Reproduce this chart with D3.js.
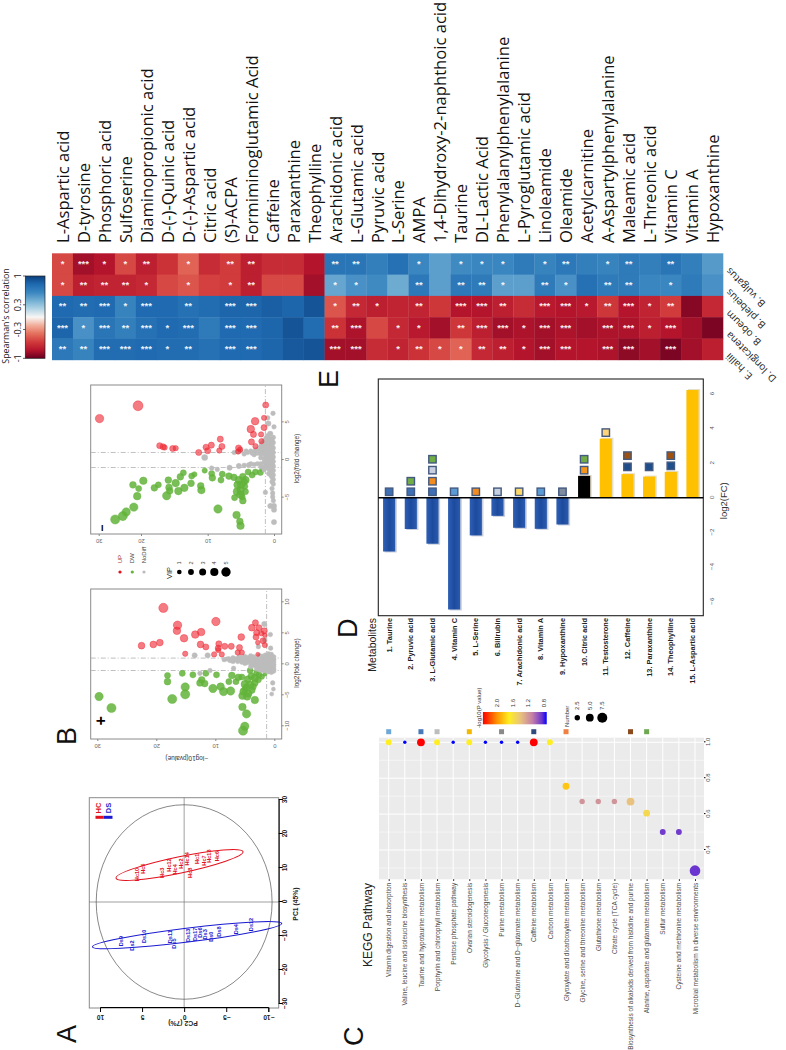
<!DOCTYPE html>
<html><head><meta charset="utf-8">
<script src="https://cdn.jsdelivr.net/npm/d3@7/dist/d3.min.js"></script>
<style>html,body{margin:0;padding:0;background:#fff;overflow:hidden}svg{display:block}text{font-family:"Liberation Sans",Arial,sans-serif}</style>
</head><body><svg id="c" width="786" height="1050"></svg>
<script>
// ---------- Panel A: PCA ----------
const hcSamples=["Hc10","Hc5","Hc3","Hc12","Hc4","Hc2","Hc14","Hc8","Hc1","Hc7","Hc13","Hc6"];
const hcPC1=[8.1,9.8,8.6,10.9,9.6,11.3,12.7,8.6,12.7,12.2,13.5,13.5];
const hcPC2=[5.6,4.9,2.6,1.8,1.1,0.4,-0.3,-0.7,-1.5,-2.3,-2.9,-3.9];
const dsSamples=["Ds9","Ds2","Ds10","Ds11","Ds5","Ds13","Ds17","Ds6","Ds3","Ds0","Ds8","Ds4","Ds12"];
const dsPC1=[-11.5,-12.8,-10.1,-10.2,-12.2,-9.8,-9.5,-9.0,-9.5,-10.2,-8.7,-8.0,-6.6];
const dsPC2=[7.5,6.2,4.8,1.7,1.2,-0.5,-1.3,-1.9,-2.5,-3.2,-4.1,-6.2,-8.0];
const pcaTicksX=[-30,-20,-10,0,10,20,30];
const pcaTicksY=[-10,-5,0,5,10];
const hcEllipseTips=[7,8.1,14.8,-7];
const dsEllipseTips=[-13.2,10.9,-6.3,-11.6];
const hotellingPC=[28.6,10.45];

// ---------- Panel B: volcano [ -log10p , log2FC , VIP ] ----------
const leftUp=[[18.8,9.1,3.9],[16.4,6.3,3.3],[16.5,5.4,2.7],[9.9,6.9,3.3],[15.3,4.2,2.7],[13.4,4.8,2.7],[12.4,5.2,2.7],[12.5,3.2,2.1],[11.6,2.8,1.6],[22.5,3.0,2.1],[20.5,3.2,2.1],[19.4,3.5,2.1],[15.1,1.7,1],[5.6,4.4,2.1],[3.8,5.9,2.1],[3.2,6.7,1.6],[2.6,5.9,1.6],[1.7,5.4,1.6],[3,5.1,1.6],[3.1,4.4,1.6],[1.9,3.8,1.6],[1.6,3.1,1],[2.8,3.5,.5],[9.4,3.3,1.6],[9.5,2.6,1.6],[8.4,2.9,1.6],[7.3,2.9,1.6],[5.9,2.7,1.6],[10.2,1.6,1],[8.9,1.6,1],[9.5,2.3,1],[6.2,1.9,1],[5.5,1.9,1],[2.8,1.6,.1],[2.2,5,1],[1.6,4.7,.5]];
const leftDown=[[29.7,-5.2,3.3],[27.6,-7.05,3.9],[18.1,-1.8,1.6],[18.1,-2.8,2.1],[15.6,-1.46,1.6],[13.8,-1.7,1.6],[12.3,-2.5,2.1],[12.6,-3,2.1],[11.8,-3.1,2.1],[11.6,-1.46,1.6],[9.8,-1.7,1.6],[15.1,-3.66,3.3],[15.1,-4.85,3.9],[17.3,-5.6,3.9],[10.4,-3.9,3.3],[9.1,-3.6,2.7],[8.6,-4.4,3.3],[7.4,-4.3,3.3],[7.7,-2.8,1.6],[7.2,-1.8,2.1],[6.5,-2.8,1.6],[6.1,-2.1,2.1],[5.5,-2.05,1.6],[4.1,-1,1.6],[3.3,-2.2,2.7],[5,-3.2,2.7],[4.1,-3.3,2.7],[5.2,-4.4,2.7],[4.4,-4.7,2.7],[5.4,-5.06,2.7],[4.6,-5.2,2.7],[3.3,-5.76,2.7],[5.4,-6.9,2.7],[4.7,-8,3.3],[5,-10,3.3],[5.3,-10.7,3.9],[3.6,-3.6,2.1],[2.7,-2.5,1.6],[2.1,-2,1],[3.8,-4.15,2.1],[1.6,-1.6,.1],[5,-4,1.6],[4.5,-2.4,2.1],[3.9,-1.9,2.1],[3,-1.4,1.6],[2.6,-1.7,1.6],[4.7,-3.7,2.1],[3.3,-3,2.1]];
const leftNone=[[13.5,1.45,1],[11.3,1.45,1],[12.6,-1.46,.5],[10.9,-1,.5],[6.9,-.65,.5],[.27,-3,.5],[.15,-4,.1],[.44,-4.8,.1],[1.7,6.5,1],[.67,4.8,.5],[.62,2.6,.5],[2.7,2.85,.5],[1.6,3.9,.5],[8.5,.75,.5],[8,.85,.5],[7.5,.6,.5],[7,1.05,.5],[7,.45,.5],[6.5,.9,.5],[6,.7,.5],[6,1.15,.5],[5.5,.35,.5],[5.5,1,.5],[5,.8,.5],[5,.15,.5],[5,1.25,.5],[4.5,.5,.5],[4.5,1.1,.5],[4,.9,.5],[4,.1,.5],[4,-.4,.5],[4,1.35,.5],[3.5,.6,.5],[3.5,-.2,.5],[3.5,1.2,.5],[3,.9,.5],[3,.3,.5],[3,-.3,.5],[3,-.7,.5],[2.5,1.4,.5],[2.5,.7,.5],[2.5,.1,.5],[2.5,-.5,.5],[2.5,-.9,.5],[2,1.3,.5],[2,.9,.5],[2,.4,.5],[2,-.1,.5],[2,-.6,.5],[2,-1,.5],[1.5,1.5,.5],[1.5,1,.5],[1.5,.5,.5],[1.5,0,.5],[1.5,-.5,.5],[1.5,-1,.5],[1,1.7,.5],[1,1.2,.5],[1,.7,.5],[1,.2,.5],[1,-.3,.5],[1,-.8,.5],[1,-1.2,.5],[.5,1.6,.5],[.5,1.1,.5],[.5,.6,.5],[.5,.1,.5],[.5,-.4,.5],[.5,-.9,.5],[.5,-1.3,.5],[.1,1.2,.5],[.1,.8,.5],[.1,.4,.5],[.1,0,.5],[.1,-.4,.5],[.1,-.8,.5],[.1,-1.1,.5],[7.7,.9,.5],[6.8,.7,.5],[6.2,.45,.5],[5.8,.85,.5],[5.2,.55,.5],[4.7,.25,.5],[4.7,.8,.5],[4.2,.65,.5],[3.8,.35,.5],[3.8,.95,.5],[3.2,.05,.5],[3.2,.6,.5],[2.8,.4,.5],[2.8,-.2,.5],[2.2,.65,.5],[2.2,.15,.5],[2.2,-.35,.5],[2.2,-.8,.5],[1.2,.95,.5],[1.2,.45,.5],[1.2,-.05,.5],[1.2,-.55,.5],[.8,1.35,.5],[.8,.85,.5],[.8,.35,.5],[.8,-.15,.5],[.8,-.65,.5],[.8,-1.05,.5]];
const rightUp=[[29.8,5.5,3.3],[20.7,7.2,4.4],[1.25,7.3,1.6],[1.5,5.6,1],[2.85,5.15,2.7],[1.5,4.3,1.6],[3.5,4.1,2.7],[3.1,3.4,1.6],[1.95,3.4,1],[3.4,2.4,1.6],[1.9,2.5,1],[2.8,1.84,1],[17.2,1.9,1.6],[16.7,1.75,1.6],[16.45,1.66,1],[15.25,1.53,1.6],[14.8,1.57,1],[11.35,1,1.6],[10.25,1.7,1.6],[9.45,1.97,1.6],[10,1.22,1.6],[8.1,2.77,1.6],[7.85,1.8,1.6],[8.25,1.26,1],[5.35,1.6,1.6],[5.1,1.4,1],[5.4,1.13,1]];
const rightDown=[[19.65,-2.76,2.7],[21.9,-3.3,2.1],[20.55,-3.8,1.6],[20.9,-4.8,2.7],[21.7,-6.26,3.3],[23.5,-6.9,3.3],[24.3,-7.45,3.9],[26.1,-7.9,3.9],[18,-3.7,2.1],[17.4,-3.3,1.6],[15.9,-2.67,2.1],[15.8,-3.65,2.1],[15.7,-4.1,2.1],[16.15,-4.75,3.3],[14.8,-3.07,2.7],[14.1,-2.23,2.1],[13.65,-1.7,1.6],[14.4,-4.13,2.7],[13.5,-3.7,2.7],[12.4,-2.14,1.6],[12.5,-3.1,2.1],[12,-1.9,1],[11.05,-3.43,2.1],[10.95,-4,2.7],[10.45,-1.4,1],[9.4,-1.8,1.6],[9.3,-2.36,2.1],[7.8,-1.88,1.6],[8,-2.67,1.6],[8.45,-6.5,3.3],[5.65,-7.3,2.7],[5.15,-8.16,2.1],[5.05,-8.73,2.7],[5.95,-5,1.6],[4.7,-5.4,2.1],[6.8,-2.14,2.1],[6.05,-2.3,2.1],[5.3,-2.67,2.7],[4.95,-3.3,2.7],[5.05,-4,2.7],[5.05,-4.6,2.7],[4.8,-4.9,1.6],[4.3,-2.67,2.7],[3.3,-2,1.6],[2.05,-1.66,1.6],[1.8,-1.25,.5],[4.4,-3.5,1.6],[4.3,-4.2,1.6],[5.5,-3.3,2.7],[4.7,-2.2,2.1],[3.9,-1.6,1.6],[2.8,-1.6,1.6],[5.6,-4.2,2.7],[4.5,-2.9,2.1]];
const rightNone=[[10.45,.33,1.6],[9.4,-1.08,.5],[8.55,-1.25,.5],[6.7,-1.03,1],[5.3,-.8,1],[3.8,-.68,1],[.15,6.2,.5],[.95,5.6,.5],[.85,4.85,1],[0,4.4,.5],[.65,3.5,.5],[1.3,-4.3,.5],[.55,-6.1,1],[0,-6.1,1],[0,-6.6,1],[0,-8.25,1],[.2,-4.9,.5],[.1,-5.4,.5],[6,1,.5],[5,1.2,.5],[4.5,.8,.5],[4,1,.5],[3.5,1.2,.5],[3,1.1,.5],[3,.7,.5],[2.5,1.4,.5],[2.5,.9,.5],[2,1.8,.5],[2,1.3,.5],[2,.8,.5],[2,.3,.5],[1.5,2.6,.5],[1.5,2,.5],[1.5,1.4,.5],[1.5,.8,.5],[1.5,.2,.5],[1.5,-.3,.5],[1,3.2,.5],[1,2.6,.5],[1,2,.5],[1,1.4,.5],[1,.8,.5],[1,.2,.5],[1,-.4,.5],[1,-1,.5],[.5,3.5,.5],[.5,2.8,.5],[.5,2.2,.5],[.5,1.6,.5],[.5,1,.5],[.5,.4,.5],[.5,-.2,.5],[.5,-.8,.5],[.5,-1.4,.5],[.5,-2,.5],[.1,3,.5],[.1,2.3,.5],[.1,1.6,.5],[.1,1,.5],[.1,.4,.5],[.1,-.2,.5],[.1,-.8,.5],[.1,-1.4,.5],[.1,-2,.5],[.1,-2.6,.5],[.1,-3.2,.5],[.3,-3.8,.5],[.2,-4.4,.5],[3,-.6,.5],[3.5,-.5,.5],[2.5,-.5,.5],[2,-.5,.5],[2,-.9,.5],[1.5,-.9,.5],[1.5,-1.3,.5],[4.5,-.7,.5],[5.5,1.1,.5],[4.2,1.2,.5],[3.3,.9,.5],[2.8,1.3,.5],[2.2,1.1,.5],[1.8,2.2,.5],[1.8,1.6,.5],[1.8,1,.5],[1.2,2.9,.5],[1.2,2.3,.5],[1.2,1.7,.5],[1.2,1.1,.5],[1.2,.5,.5],[1.2,-.1,.5],[1.2,-.7,.5],[.8,3,.5],[.8,2.4,.5],[.8,1.8,.5],[.8,1.2,.5],[.8,.6,.5],[.8,0,.5],[.8,-.6,.5],[.8,-1.2,.5],[.8,-1.8,.5],[.3,2.6,.5],[.3,1.9,.5],[.3,1.3,.5],[.3,.7,.5],[.3,.1,.5],[.3,-.5,.5],[.3,-1.1,.5],[.3,-1.7,.5],[.3,-2.3,.5],[.3,-2.9,.5]];
const leftFcTicks=[-10,-5,0,5,10];
const rightFcTicks=[-5,0,5];
const pvalTicks=[0,10,20,30];
const vipLevels=[1,2,3,4,5];
const volcanoClasses=["UP","DW","NoDiff"];

// ---------- Panel C: KEGG ----------
const pathways=["Vitamin digestion and absorption","Valine, leucine and isoleucine biosynthesis","Taurine and hypotaurine metabolism","Porphyrin and chlorophyll metabolism","Pentose phosphate pathway","Ovarian steroidogenesis","Glycolysis / Gluconeogenesis","Purine metabolism","D−Glutamine and D−glutamate metabolism","Caffeine metabolism","Carbon metabolism","Glyoxylate and dicarboxylate metabolism","Glycine, serine and threonine metabolism","Glutathione metabolism","Citrate cycle (TCA cycle)","Biosynthesis of alkaloids derived from histidine and purine","Alanine, aspartate and glutamate metabolism","Sulfur metabolism","Cysteine and methionine metabolism","Microbial metabolism in diverse environments"];
const pathwayRatio=[1,1,1,1,1,1,1,1,1,1,1,.755,.67,.67,.67,.67,.605,.5,.5,.285];
const pathwayP=[1.7,.73,2.37,1.7,.73,1.7,.73,.73,.73,2.37,1.7,1.83,1.2,1.2,1.2,1.4,1.55,.87,.87,.85];
const pathwayNumber=[3,1,5,3,1,3,1,1,1,5,3,4,2.5,2.5,2.5,5,4,3,3,8];
const pathwayTagIndex=[0,2,3,5,7,9,11,15,16];
const pathwayTagColor=["#6fa8d6","#4a79b8","#bdbdbd","#f5b800","#8a8a8a","#2f4a7d","#f08040","#8b4a1e","#70a850"];
const ratioTicks=[.4,.6,.8,1];
const pLegendTicks=[2,1.6,1.2,.8];
const pStops=[2.37,2,1.7,1.4,1.1,.85,.73];
const pStopColors=["#ff0000","#ff9500","#ffee22","#e8c27e","#c47fa8","#6a35d0","#0000ff"];
const numberLegend=[2.5,5,7.5];

// ---------- Panel D: bars ----------
const metabolites=["1. Taurine","2. Pyruvic acid","3. L-Glutamic acid","4. Vitamin C","5. L-Serine","6. Bilirubin","7. Arachidonic acid","8. Vitamin A","9. Hypoxanthine","10. Citric acid","11. Testosterone","12. Caffeine","13. Paraxanthine","14. Theophylline","15. L-Aspartic acid"];
const log2fc=[-3.1,-1.8,-2.65,-6.45,-2.17,-1.04,-1.73,-1.79,-1.54,1.27,3.42,1.37,1.23,1.5,6.23];
const fcTicks=[-6,-4,-2,0,2,4,6];
const tagFC=[[.35],[.35,.96],[.35,.96,1.6,2.23],[.35],[.35],[.35],[.35],[.35],[.35],[1.6,2.23],[3.77],[1.79,2.44],[1.79],[1.85,2.44],[]];
const tagColors=[["#3f6fb5"],["#3f6fb5","#70ad47"],["#3f6fb5","#f28c1e","#c9cfe0","#70ad47"],["#5b9bd5"],["#f28c1e"],["#c5cfe0"],["#ffd966"],["#5b9bd5"],["#7f8c9f"],["#f4951e","#70ad47"],["#ffd37a"],["#1f4e8c","#9e5212"],["#1f4e8c"],["#1f4e8c","#9e5212"],[]];

// ---------- Panel E: heatmap ----------
const compounds=["L-Aspartic acid","D-tyrosine","Phosphoric acid","Sulfoserine","Diaminopropionic acid","D-(-)-Quinic acid","D-(-)-Aspartic acid","Citric acid","(S)-ACPA","Formiminoglutamic Acid","Caffeine","Paraxanthine","Theophylline","Arachidonic acid","L-Glutamic acid","Pyruvic acid","L-Serine","AMPA","1,4-Dihydroxy-2-naphthoic acid","Taurine","DL-Lactic Acid","Phenylalanylphenylalanine","L-Pyroglutamic acid","Linoleamide","Oleamide","Acetylcarnitine","A-Aspartylphenylalanine","Maleamic acid","L-Threonic acid","Vitamin C","Vitamin A","Hypoxanthine"];
const bacteria=["B. vulgatus","B. plebeius","B. obeum","D. longicatena","E. hallii"];
const rVulgatus=[-.55,-.85,-.8,-.55,-.75,-.65,-.45,-.68,-.6,-.75,-.68,-.68,-.8,.72,.72,.65,.75,.6,.48,.58,.6,.6,.68,.62,.7,.65,.62,.68,.65,.72,.65,.5];
const rPlebeius=[-.55,-.75,-.72,-.72,-.7,-.55,-.5,-.58,-.6,-.75,-.55,-.55,-.85,.45,.55,.58,.42,.7,.48,.7,.68,.48,.48,.68,.55,.75,.68,.68,.6,.6,.68,.55];
const rObeum=[.8,.78,.8,.62,.8,.8,.75,.78,.82,.82,.85,.82,.9,-.5,-.7,-.75,-.72,-.72,-.62,-.8,-.8,-.75,-.68,-.78,-.8,-.78,-.62,-.8,-.72,-.6,-.92,-.7];
const rLongicatena=[.82,.55,.72,.65,.75,.8,.78,.68,.8,.8,.82,.9,.78,-.65,-.82,-.55,-.7,-.78,-.85,-.62,-.75,-.85,-.82,-.85,-.82,-.85,-.82,-.82,-.75,-.8,-.85,-.95];
const rHallii=[.7,.62,.78,.78,.8,.78,.78,.75,.8,.8,.82,.88,.9,-.85,-.85,-.68,-.72,-.65,-.55,-.45,-.7,-.75,-.8,-.85,-.8,-.8,-.82,-.9,-.85,-.95,-.85,-.75];
const heatValues=[rVulgatus,rPlebeius,rObeum,rLongicatena,rHallii];
const sVulgatus=[1,3,1,1,2,0,1,0,2,2,0,0,0,2,2,0,0,1,0,1,1,1,0,1,2,0,1,2,0,2,0,0];
const sPlebeius=[1,2,2,2,1,0,1,0,1,2,0,0,0,1,1,0,0,2,0,2,2,1,0,2,1,0,2,2,0,1,0,0];
const sObeum=[2,2,3,1,3,0,2,0,3,3,0,0,0,1,2,1,0,2,0,3,3,2,0,3,3,1,2,3,1,2,0,0];
const sLongicatena=[3,1,3,2,3,1,3,0,3,3,0,0,0,2,3,0,1,1,0,2,3,3,1,3,3,0,3,3,1,3,0,0];
const sHallii=[2,2,3,3,3,1,2,0,3,3,0,0,0,3,3,0,1,2,1,1,2,2,1,3,3,0,3,3,0,3,0,0];
const heatStars=[sVulgatus,sPlebeius,sObeum,sLongicatena,sHallii];
const corrTicks=[-1,-.3,.3,1];

// ========== drawing; frame is rotated so that everything is laid out as in the upright figure ==========
const svg=d3.select("#c");
svg.append("rect").attr("width",786).attr("height",1050).attr("fill","#fff");
const defs=svg.append("defs");
const root=svg.append("g").attr("transform","translate(0,1050) rotate(-90)");
const PY=y=>1050-y;
function txt(g,x,y,s,o={}){const t=g.append("text").attr("x",x).attr("y",y).text(s)
 .attr("font-size",o.size||8).attr("fill",o.fill||"#333").attr("text-anchor",o.anchor||"middle");
 if(o.weight)t.attr("font-weight",o.weight); if(o.family)t.style("font-family",o.family);
 if(o.base)t.attr("dominant-baseline",o.base);
 if(o.rot!=null)t.attr("transform",`rotate(${o.rot},${x},${y})`); return t;}

[["A",7,76],["B",305,76],["C",4,363],["D",412,357],["E",662,338]].forEach(d=>txt(root,d[1],d[2],d[0],{size:27,anchor:"start",fill:"#111"}));

// ---- Panel A
(function(){
 const g=root.append("g");
 const x=d3.scaleLinear().domain([-30,30]).range([46,250]);
 const y=d3.scaleLinear().domain([-10,10]).range([268.3,100]);
 g.append("rect").attr("x",42).attr("y",89.3).attr("width",210.3).attr("height",189.4).attr("fill","none").attr("stroke","#8a8a8a").attr("stroke-width",1);
 g.append("line").attr("x1",x(0)).attr("x2",x(0)).attr("y1",89.3).attr("y2",278.7).attr("stroke","#777").attr("stroke-width",.7);
 g.append("line").attr("x1",42).attr("x2",252.3).attr("y1",y(0)).attr("y2",y(0)).attr("stroke","#777").attr("stroke-width",.7);
 g.append("ellipse").attr("cx",x(0)).attr("cy",y(0)).attr("rx",x(hotellingPC[0])-x(0)).attr("ry",y(0)-y(hotellingPC[1])).attr("fill","none").attr("stroke","#555").attr("stroke-width",.7);
 function ell(t,col,minor){
  const [a,b,c,d]=[x(t[0]),y(t[1]),x(t[2]),y(t[3])];
  const cx=(a+c)/2,cy=(b+d)/2,len=Math.hypot(c-a,d-b)/2,ang=Math.atan2(d-b,c-a)*180/Math.PI;
  g.append("ellipse").attr("cx",cx).attr("cy",cy).attr("rx",len).attr("ry",minor).attr("transform",`rotate(${ang},${cx},${cy})`).attr("fill","none").attr("stroke",col).attr("stroke-width",1);
 }
 ell(hcEllipseTips,"#e3101d",8.2); ell(dsEllipseTips,"#1a1ad0",7);
 hcSamples.forEach((s,i)=>txt(g,x(hcPC1[i]),y(hcPC2[i]),s,{size:5.6,fill:"#e3101d",base:"central",weight:"bold"}));
 dsSamples.forEach((s,i)=>txt(g,x(dsPC1[i]),y(dsPC2[i]),s,{size:5.6,fill:"#1a1ad0",base:"central",weight:"bold"}));
 const ax=d3.axisBottom(x).tickValues(pcaTicksX).tickSize(4).tickFormat(d3.format("d"));
 const axg=g.append("g").attr("transform","translate(0,278.7)").call(ax);
 axg.selectAll("text").attr("font-size",6.6).attr("font-weight","bold").attr("fill","#222").attr("dy","0.9em").attr("y",2);
 const ay=d3.axisLeft(y).tickValues(pcaTicksY).tickSize(4).tickFormat(d3.format("d"));
 const ayg=g.append("g").attr("transform","translate(42,0)").call(ay);
 ayg.selectAll("text").attr("font-size",6.6).attr("font-weight","bold").attr("fill","#222").attr("text-anchor","middle").attr("dy",0).attr("x",0).attr("y",0).attr("transform","translate(-7,0) rotate(-90)");
 txt(g,146,298,"PC1 (45%)",{size:6.8,weight:"bold",fill:"#222"});
 txt(g,29,183,"PC2 (7%)",{size:6.8,weight:"bold",fill:"#222",rot:-90});
 txt(g,242,101,"HC",{size:7.5,fill:"#e3101d",weight:"bold"});
 txt(g,242,111,"DS",{size:7.5,fill:"#1a1ad0",weight:"bold"});
 g.append("line").attr("x1",232.7).attr("x2",232.7).attr("y1",95.5).attr("y2",103.5).attr("stroke","#e3101d").attr("stroke-width",3);
 g.append("line").attr("x1",232.7).attr("x2",232.7).attr("y1",103.5).attr("y2",112.5).attr("stroke","#1a1ad0").attr("stroke-width",3);
})();

// ---- Panel B volcanoes
const vipR=d3.scaleLinear().domain([1,5]).range([2.33,4.67]);
const dotScale=1.14;
function volcano(o){
 const g=root.append("g");
 const x=d3.scaleLinear().domain([-10,10]).range([PY(o.x0)-o.k*10,PY(o.x0)+o.k*10]);
 const y=d3.scaleLinear().domain(pvalTicks).range(o.yr);
 g.append("rect").attr("x",o.u0).attr("y",90.7).attr("width",o.u1-o.u0).attr("height",191).attr("fill","#fff").attr("stroke","#8a8a8a").attr("stroke-width",1);
 const dash="5,2,1,2";
 [-1,1].forEach(v=>g.append("line").attr("x1",x(v)).attr("x2",x(v)).attr("y1",90.7).attr("y2",281.7).attr("stroke","#b0b0b0").attr("stroke-width",.8).attr("stroke-dasharray",dash));
 g.append("line").attr("x1",o.u0).attr("x2",o.u1).attr("y1",y(1.3)).attr("y2",y(1.3)).attr("stroke","#b0b0b0").attr("stroke-width",.8).attr("stroke-dasharray",dash);
 const dot=(arr,col,fo)=>g.append("g").selectAll("circle").data(arr).join("circle").attr("cx",d=>x(d[1])).attr("cy",d=>y(d[0])).attr("r",d=>vipR(d[2])*dotScale).attr("fill",col).attr("fill-opacity",fo).attr("stroke",col).attr("stroke-opacity",.85).attr("stroke-width",.5);
 dot(o.down,"#62b33a",.85); dot(o.none,"#bcbcbc",.98); dot(o.up,"#ee2a36",.62);
 const ax=d3.axisBottom(x).tickValues(o.fcTicks).tickSize(2).tickFormat(d=>d<0?"−"+(-d):d);
 const axg=g.append("g").attr("transform","translate(0,281.7)").call(ax);
 axg.select(".domain").remove(); axg.selectAll("line").attr("stroke","#888");
 axg.selectAll("text").attr("font-size",5.8).attr("fill","#666").attr("y",3);
 const ay=d3.axisLeft(y).tickValues(pvalTicks).tickSize(2);
 const ayg=g.append("g").attr("transform",`translate(${o.u0},0)`).call(ay);
 ayg.select(".domain").remove(); ayg.selectAll("line").attr("stroke","#888");
 ayg.selectAll("text").attr("font-size",5.8).attr("fill","#666").attr("text-anchor","middle").attr("x",0).attr("y",0).attr("dy",0).attr("transform","translate(-5,0) rotate(-90)");
 txt(g,(o.u0+o.u1)/2+1,299,"log2(fold change)",{size:6.4,fill:"#333"});
 txt(g,o.tagU,106,o.tag,{size:o.tagSize,weight:"bold",fill:"#000"});
 return g;
}
const gL=volcano({u0:311,u1:461,x0:664.3,k:6.2,yr:[274.3,215.3,156.3,97.3],up:leftUp,down:leftDown,none:leftNone,fcTicks:leftFcTicks,tag:"+",tagU:329.3,tagSize:16});
txt(gL,294,186.7,"−log10(pvalue)",{size:6.4,rot:-90,fill:"#333"});
volcano({u0:516,u1:665,x0:460,k:7.53,yr:[274,207.7,141,98.7],up:rightUp,down:rightDown,none:rightNone,fcTicks:rightFcTicks,tag:"−",tagU:521.7,tagSize:12});
(function(){
 const g=root.append("g");
 const cols=["#e3101d","#62b33a","#bcbcbc"],vs=[120,132.3,144];
 volcanoClasses.forEach((c,i)=>{txt(g,486.7,vs[i],c,{size:6,anchor:"start",base:"central",fill:i==0?"#a33":"#444"});
  g.append("circle").attr("cx",478).attr("cy",vs[i]).attr("r",1.6).attr("fill",cols[i]);});
 txt(g,477,169.3,"VIP",{size:7.5,base:"central",fill:"#222"});
 const vp=d3.scalePoint().domain(vipLevels).range([179.3,226]);
 vipLevels.forEach(v=>{g.append("circle").attr("cx",478).attr("cy",vp(v)).attr("r",vipR(v)).attr("fill","#000");
  txt(g,487,vp(v),v,{size:5.6,base:"central",fill:"#444"});});
})();

// ---- Panel C
(function(){
 const g=root.append("g");
 const x=d3.scaleLinear().domain([.4,1]).range([200,307.7]);
 const y=d3.scalePoint().domain(pathways).range([388.7,695]);
 const U0=170.7,U1=312.3,V0=379,V1=704;
 g.append("rect").attr("x",U0).attr("y",V0).attr("width",U1-U0).attr("height",V1-V0).attr("fill","#ebebeb");
 [.3,.5,.7,.9].forEach(v=>g.append("line").attr("x1",x(v)).attr("x2",x(v)).attr("y1",V0).attr("y2",V1).attr("stroke","#fff").attr("stroke-width",.5));
 ratioTicks.forEach(v=>g.append("line").attr("x1",x(v)).attr("x2",x(v)).attr("y1",V0).attr("y2",V1).attr("stroke","#fff").attr("stroke-width",1));
 pathways.forEach(p=>g.append("line").attr("x1",U0).attr("x2",U1).attr("y1",y(p)).attr("y2",y(p)).attr("stroke","#fff").attr("stroke-width",1));
 const pc=d3.scaleLinear().domain(pStops).range(pStopColors);
 const nr=d3.scaleLinear().domain([1,2.5,5,7.5,8]).range([1.7,2.7,3.9,5,5.3]);
 pathways.forEach((p,i)=>g.append("circle").attr("cx",x(pathwayRatio[i])).attr("cy",y(p)).attr("r",nr(pathwayNumber[i])).attr("fill",pc(pathwayP[i])));
 pathwayTagIndex.forEach((k,i)=>g.append("rect").attr("x",PY(731.7)-2.5).attr("y",y(pathways[k])-2.5).attr("width",5).attr("height",5).attr("fill",pathwayTagColor[i]));
 const ax=d3.axisBottom(x).tickValues(ratioTicks).tickSize(1.5).tickFormat(d3.format(".1f"));
 const axg=g.append("g").attr("transform",`translate(0,${V1})`).call(ax);
 axg.select(".domain").remove();
 axg.selectAll("text").attr("font-size",6).attr("fill","#4d4d4d").attr("y",2);
 const ay=d3.axisLeft(y).tickSize(1.5);
 const ayg=g.append("g").attr("transform",`translate(${U0},0)`).call(ay);
 ayg.select(".domain").remove();
 ayg.selectAll("text").attr("font-size",6.5).attr("fill","#4d4d4d").attr("x",-3.5);
 txt(g,167,368,"KEGG Pathway",{size:12,anchor:"end",fill:"#222",base:"central"});
 const lv=d3.scaleLinear().domain([2,.8]).range([497.3,544]);
 const grad=defs.append("linearGradient").attr("id","pgrad").attr("gradientUnits","userSpaceOnUse").attr("x1",0).attr("x2",0).attr("y1",lv(2.37)).attr("y2",lv(.73));
 pStops.forEach((v,i)=>grad.append("stop").attr("offset",(lv(v)-lv(2.37))/(lv(.73)-lv(2.37))).attr("stop-color",pStopColors[i]));
 g.append("rect").attr("x",325.7).attr("y",lv(2.37)).attr("width",12.3).attr("height",lv(.73)-lv(2.37)).attr("fill","url(#pgrad)");
 pLegendTicks.forEach(v=>txt(g,347,lv(v),d3.format(".1f")(v),{size:6,base:"central",fill:"#333"}));
 txt(g,322,479,"-log10(P value)",{size:6,anchor:"start",base:"central",fill:"#333"});
 const nv=d3.scalePoint().domain(numberLegend).range([577.3,602.3]);
 numberLegend.forEach(v=>{g.append("circle").attr("cx",PY(717.7)).attr("cy",nv(v)).attr("r",nr(v)).attr("fill","#000");
  txt(g,344.3,nv(v),d3.format(".1f")(v),{size:6,base:"central",fill:"#333"});});
 txt(g,323,567,"Number",{size:6,anchor:"start",base:"central",fill:"#333"});
})();

// ---- Panel D
(function(){
 const g=root.append("g");
 const x=d3.scaleLinear().domain([-6,6]).range([PY(601.7),PY(394)]);
 const y=d3.scaleBand().domain(metabolites).range([378.3,703.3]).paddingInner(.44).paddingOuter(.22);
 const lg=defs.append("linearGradient").attr("id","bluebar").attr("x1",0).attr("x2",0).attr("y1",0).attr("y2",1);
 [[0,"#2f5fb5"],[.5,"#1c4b9e"],[1,"#2a5aae"]].forEach(s=>lg.append("stop").attr("offset",s[0]).attr("stop-color",s[1]));
 const color=(v,i)=>v<0?"url(#bluebar)":(metabolites[i].startsWith("10.")?"#000":"#ffc000");
 const shadow=v=>v<0?"#c9cfdc":"#e6dfc8";
 log2fc.forEach((v,i)=>{
  const a=Math.min(x(0),x(v)),w=Math.abs(x(v)-x(0)),m=metabolites[i];
  g.append("rect").attr("x",a-(v<0?1:-.5)).attr("y",y(m)+1.6).attr("width",w+.5).attr("height",y.bandwidth()).attr("fill",shadow(v));
  g.append("rect").attr("x",a).attr("y",y(m)).attr("width",w).attr("height",y.bandwidth()).attr("fill",color(v,i));
  tagFC[i].forEach((t,k)=>g.append("rect").attr("x",x(t)-3.7).attr("y",y(m)+y.bandwidth()/2-3.7).attr("width",7.4).attr("height",7.4).attr("fill",tagColors[i][k]).attr("stroke","#44597f").attr("stroke-width",1.4));
 });
 g.append("rect").attr("x",PY(615.7)).attr("y",378.3).attr("width",615.7-379).attr("height",325).attr("fill","none").attr("stroke","#222").attr("stroke-width",1.1);
 g.append("line").attr("x1",x(0)).attr("x2",x(0)).attr("y1",378.3).attr("y2",703.3).attr("stroke","#000").attr("stroke-width",1.5);
 const ax=d3.axisBottom(x).tickValues(fcTicks).tickSize(0).tickFormat(d=>d<0?"−"+(-d):d);
 const axg=g.append("g").attr("transform","translate(0,703.3)").call(ax);
 axg.select(".domain").remove();
 axg.selectAll("text").attr("font-size",6.2).attr("fill","#555").attr("y",6);
 txt(g,PY(500.7),727,"log2(FC)",{size:9.5,fill:"#333"});
 metabolites.forEach(m=>txt(g,PY(618),y(m)+y.bandwidth()/2,m,{size:7.4,weight:"bold",anchor:"end",base:"central",fill:"#222"}));
 txt(g,PY(618),372,"Metabolites",{size:10.5,anchor:"end",base:"central",fill:"#222"});
})();

// ---- Panel E
(function(){
 const g=root.append("g");
 const x=d3.scaleBand().domain(bacteria).range([PY(253.5),PY(360)]);
 const y=d3.scaleBand().domain(compounds).range([52,723]);
 const col=d3.scaleLinear().domain([-1,-.8,-.6,-.3,0,.3,.6,.8,1]).range(["#67001f","#b5152c","#d13b3c","#ee8a6e","#f8f6f4","#8fc3dd","#3a86c0","#1f6ab0","#0a3f7d"]);
 bacteria.forEach((b,i)=>compounds.forEach((c,j)=>{
  g.append("rect").attr("x",x(b)-.2).attr("y",y(c)).attr("width",x.bandwidth()+.4).attr("height",y.bandwidth()+.3).attr("fill",col(heatValues[i][j]));
  const n=heatStars[i][j];
  if(n){const cu=x(b)+x.bandwidth()/2,cv=y(c)+y.bandwidth()/2;
   g.append("text").attr("transform",`translate(${cu-2.6},${cv}) rotate(90)`).attr("text-anchor","middle").attr("font-size",9.5).attr("font-weight","bold").attr("fill","#fff").attr("fill-opacity",.92).text("*".repeat(n));}
 }));
 compounds.forEach(c=>txt(g,PY(243),y(c)+y.bandwidth()/2,c,{size:16.6,anchor:"start",base:"central",fill:"#111",family:"'Open Sans'"}));
 bacteria.forEach(b=>{const u=x(b)+x.bandwidth()/2-3;
  txt(g,u,730,b,{size:10,anchor:"end",fill:"#222",family:"'Open Sans'"}).attr("transform",`rotate(-45,${u},730)`);});
 const c=d3.scaleLinear().domain([-1,1]).range([PY(358.3),PY(276)]);
 const gr=defs.append("linearGradient").attr("id","corr").attr("gradientUnits","userSpaceOnUse").attr("x1",c(-1)).attr("x2",c(1)).attr("y1",0).attr("y2",0);
 d3.range(0,1.01,.1).forEach(t=>gr.append("stop").attr("offset",t).attr("stop-color",col(t*2-1)));
 g.append("rect").attr("x",c(-1)).attr("y",25.3).attr("width",c(1)-c(-1)).attr("height",19.7).attr("fill","url(#corr)").attr("stroke","#222").attr("stroke-width",.7);
 corrTicks.forEach(t=>{g.append("line").attr("x1",c(t)).attr("x2",c(t)).attr("y1",23).attr("y2",25.3).attr("stroke","#222").attr("stroke-width",.7);
  txt(g,c(t),17.5,t,{size:9,base:"central",fill:"#222",family:"'Open Sans'"});});
 txt(g,PY(316),5.5,"Spearman's correlation",{size:8.8,base:"central",fill:"#222",family:"'Open Sans'"});
})();
</script></body></html>
